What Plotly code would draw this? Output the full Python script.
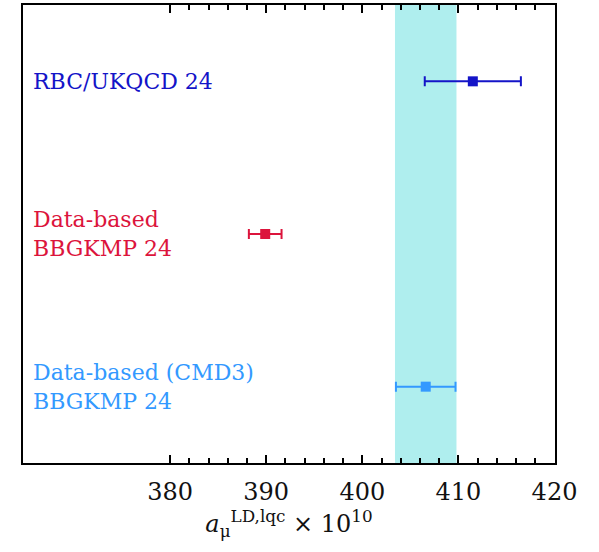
import plotly.graph_objects as go

# Results: central value and symmetric uncertainty (units of 1e-10)
labels = ["RBC/UKQCD 24",
          "Data-based<br>BBGKMP 24",
          "Data-based (CMD3)<br>BBGKMP 24"]
values = [411.5, 389.9, 406.6]
errors = [5.0, 1.7, 3.1]
rows = [3, 2, 1]
colors = ["#1414c8", "#dc143c", "#3399ff"]

# Reference band (lattice average)
band_center = 406.6
band_err = 3.2

major_ticks = [380, 390, 400, 410, 420]
minor_ticks = [382, 384, 386, 388, 392, 394, 396, 398, 402, 404, 406, 408,
               412, 414, 416, 418]

serif = "DejaVu Serif, Liberation Serif, serif"

fig = go.Figure()

fig.add_shape(type="rect", xref="x", yref="paper",
              x0=band_center - band_err, x1=band_center + band_err,
              y0=0, y1=1, fillcolor="#afeeee", line_width=0, layer="below")

for lab, v, e, r, c in zip(labels, values, errors, rows, colors):
    fig.add_trace(go.Scatter(
        x=[v], y=[r], mode="markers",
        marker=dict(symbol="square", size=10, color=c),
        error_x=dict(type="data", array=[e], color=c, thickness=2, width=5),
        showlegend=False,
    ))
    fig.add_annotation(xref="paper", yref="y", x=0.015, y=r,
                       text=lab, showarrow=False, align="left",
                       xanchor="left", yanchor="middle",
                       font=dict(family=serif, size=22, color=c))

fig.update_layout(
    width=599, height=552,
    margin=dict(l=23, r=44, t=3, b=89),
    plot_bgcolor="white", paper_bgcolor="white",
    xaxis=dict(
        range=[364.7, 420.05],
        tickmode="array", tickvals=major_ticks,
        ticks="inside", ticklen=8, tickwidth=2, tickcolor="black",
        minor=dict(tickmode="array", tickvals=minor_ticks, ticks="inside",
                   ticklen=5, tickwidth=2, tickcolor="black"),
        showgrid=False, zeroline=False,
        showline=True, linecolor="black", linewidth=2, mirror="ticks",
        tickfont=dict(family=serif, size=24, color="#111"),
        ticklabelstandoff=6,
        title=dict(text="<i>a</i><sub>μ</sub><sup>LD,lqc</sup> × 10<sup>10</sup>",
                   font=dict(family=serif, size=24, color="#111"), standoff=2),
    ),
    yaxis=dict(
        range=[0.5, 3.5], showticklabels=False, ticks="",
        showgrid=False, zeroline=False,
        showline=True, linecolor="black", linewidth=2, mirror=True,
    ),
)

fig.write_html("out.html")
